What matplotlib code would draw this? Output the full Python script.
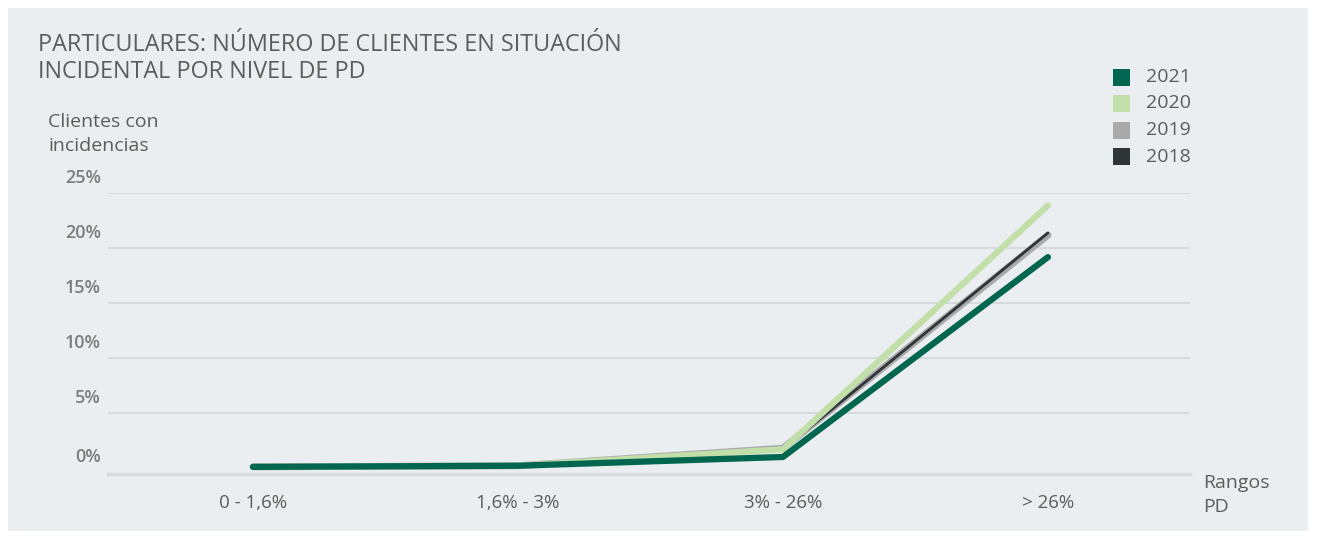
import matplotlib
matplotlib.use("Agg")
import matplotlib.pyplot as plt
from matplotlib.patches import Rectangle

plt.rcParams['font.family'] = ['Open Sans', 'DejaVu Sans']

# Data
categories = ["0 - 1,6%", "1,6% - 3%", "3% - 26%", "> 26%"]
years = ["2021", "2020", "2019", "2018"]
values_2021 = [0.1, 0.2, 1.0, 19.2]
values_2020 = [0.1, 0.2, 1.7, 23.9]
values_2019 = [0.1, 0.2, 1.8, 21.2]
values_2018 = [0.1, 0.2, 1.7, 21.4]
y_ticks = [0, 5, 10, 15, 20, 25]
y_tick_labels = ["0%", "5%", "10%", "15%", "20%", "25%"]

colors = {"2021": "#00664f", "2020": "#c3dfa9", "2019": "#a9a9a9", "2018": "#2f3437"}
text_color = "#5c5c5c"
panel_color = "#ebeef0"
grid_color = "#d7dadc"

W, H = 1317, 539
fig = plt.figure(figsize=(W / 100, H / 100), dpi=100)
fig.patch.set_facecolor("white")
fig.patches.append(Rectangle((8 / W, 8 / H), (1308 - 8) / W, (531 - 8) / H,
                             transform=fig.transFigure, facecolor=panel_color,
                             edgecolor="none", zorder=-10))

def px(x0, y0, x1, y1):
    return [x0 / W, 1 - y1 / H, (x1 - x0) / W, (y1 - y0) / H]

ax = fig.add_axes(px(108, 193.4, 1190, 474))
ax.set_zorder(1)
ax.set_facecolor("none")
ax.set_xlim(-0.547, 3.536)
ax.set_ylim(-0.55, 25)
for s in ax.spines.values():
    s.set_visible(False)
ax.set_xticks([])
ax.set_yticks([])

# gridlines and baseline
for v in y_ticks[1:]:
    ax.axhline(v, color=grid_color, lw=1.5, zorder=1)
ax.axhline(-0.55, color=grid_color, lw=2.5, zorder=1, clip_on=False)

# y labels sit above their gridlines
for v, lab in zip(y_ticks, y_tick_labels):
    off = 1.0 if v == 0 else 1.4
    ax.text(-0.574, v + off, lab, ha="right", va="center", fontsize=13,
            fontweight="semibold", color="#7d7d7d", clip_on=False)

x = range(len(categories))
ax.plot(x, values_2019, color=colors["2019"], lw=5, solid_capstyle="round", zorder=3, clip_on=False)
ax.plot(x, values_2018, color=colors["2018"], lw=2, solid_capstyle="round", zorder=4, clip_on=False)
ax.plot(x, values_2020, color=colors["2020"], lw=4.5, solid_capstyle="round", zorder=5, clip_on=False)
ax.plot(x, values_2021, color=colors["2021"], lw=4.5, solid_capstyle="round", zorder=6, clip_on=False)

for i, c in enumerate(categories):
    ax.text(i, -3.2, c, ha="center", va="center", fontsize=13.5, color=text_color, clip_on=False)

# titles and axis captions
fig.text(38 / W, 1 - 45 / H, "PARTICULARES: NÚMERO DE CLIENTES EN SITUACIÓN",
         fontsize=16.8, color=text_color, va="center")
fig.text(38 / W, 1 - 72 / H, "INCIDENTAL POR NIVEL DE PD",
         fontsize=16.8, color=text_color, va="center")
fig.text(48 / W, 1 - 122 / H, "Clientes con", fontsize=14, color=text_color, va="center")
fig.text(48 / W, 1 - 146 / H, "incidencias", fontsize=14, color=text_color, va="center")
fig.text(1203 / W, 1 - 483 / H, "Rangos", fontsize=14, color=text_color, va="center")
fig.text(1203 / W, 1 - 507 / H, "PD", fontsize=14, color=text_color, va="center")

# legend
for k, yr in enumerate(years):
    yc = 77 + k * 26.5
    fig.patches.append(Rectangle((1113 / W, 1 - (yc + 8.5) / H), 17 / W, 17 / H,
                                 transform=fig.transFigure, facecolor=colors[yr],
                                 edgecolor="none", zorder=2))
    fig.text(1146 / W, 1 - yc / H, yr, fontsize=14, color=text_color, va="center")

fig.savefig("out.png", dpi=100, facecolor="white")
